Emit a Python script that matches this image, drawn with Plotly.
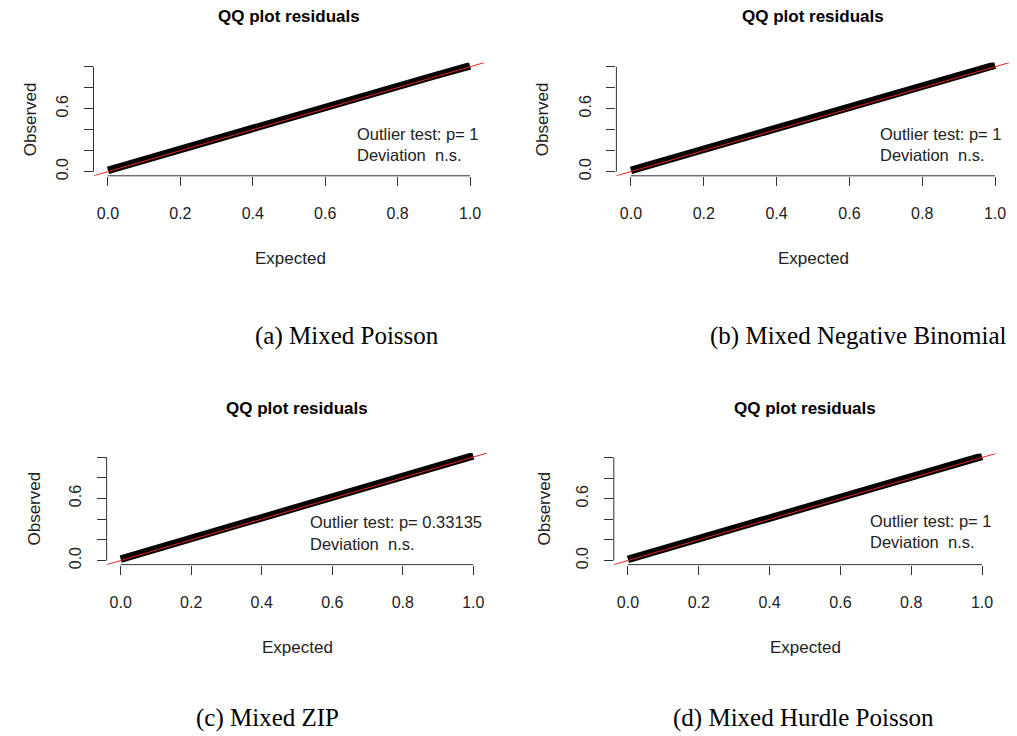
import plotly.graph_objects as go

# ---------------- data ----------------
expected = [0.0, 0.1, 0.2, 0.3, 0.4, 0.5, 0.6, 0.7, 0.8, 0.9, 1.0]
obs_poisson = [0.012, 0.113, 0.213, 0.312, 0.418, 0.524, 0.624, 0.722, 0.818, 0.912, 1.008]
obs_negbin = [0.012, 0.112, 0.212, 0.311, 0.417, 0.523, 0.623, 0.721, 0.817, 0.911, 1.015]
obs_zip = [0.013, 0.114, 0.214, 0.314, 0.420, 0.526, 0.625, 0.723, 0.819, 0.913, 1.012]
obs_hurdle = [0.012, 0.113, 0.213, 0.312, 0.418, 0.524, 0.624, 0.722, 0.818, 0.912, 1.012]

x_tick_vals = [0.0, 0.2, 0.4, 0.6, 0.8, 1.0]
x_tick_text = ["0.0", "0.2", "0.4", "0.6", "0.8", "1.0"]
y_tick_text = ["0.0", "", "", "0.6", "", ""]

panel_titles = ["QQ plot residuals"] * 4
captions = ["(a) Mixed Poisson", "(b) Mixed Negative Binomial", "(c) Mixed ZIP", "(d) Mixed Hurdle Poisson"]
test_lines = [
    ["Outlier test: p= 1", "Deviation  n.s."],
    ["Outlier test: p= 1", "Deviation  n.s."],
    ["Outlier test: p= 0.33135", "Deviation  n.s."],
    ["Outlier test: p= 1", "Deviation  n.s."],
]
series = [obs_poisson, obs_negbin, obs_zip, obs_hurdle]

# ---------------- layout geometry (pixels) ----------------
W, H = 1017, 736
# plot region boxes: left, right, top, bottom (px)
boxes = [
    (93.5, 484.5, 63, 177),
    (616.4, 1009.6, 63, 177),
    (106.6, 487.4, 456, 568.5),
    (613.8, 996.2, 456.5, 568.5),
]
title_pos = [(289, 17), (813, 17), (297, 411), (805, 411)]
xlab_pos = [(290, 260), (813, 260), (297, 652), (805, 652)]
ylab_pos = [(30, 120), (542, 120), (35, 512), (545, 512)]
caption_pos = [(347, 338), (858, 338), (267, 723), (803, 723)]
text_anchor = [(0.682, 0.362, 0.162), (0.679, 0.362, 0.162),
               (0.531, 0.375, 0.163), (0.678, 0.388, 0.175)]

RANGE = [-0.04, 1.04]
AX_COL = "#333333"
TXT_COL = "#222222"
SANS = "Liberation Sans, Arial, sans-serif"
SERIF = "Liberation Serif, Times New Roman, serif"


def px(x):
    return x / W


def py(y):
    return 1 - y / H


fig = go.Figure()
layout = dict(
    width=W, height=H, autosize=False,
    margin=dict(l=0, r=0, t=0, b=0),
    paper_bgcolor="white", plot_bgcolor="white",
    showlegend=False,
)
annotations = []
shapes = []

for i in range(4):
    n = "" if i == 0 else str(i + 1)
    xa, ya = "x" + n, "y" + n
    l, r, t, b = boxes[i]
    layout["xaxis" + n] = dict(
        domain=[px(l), px(r)], anchor=ya, range=RANGE,
        tickvals=x_tick_vals, ticktext=x_tick_text,
        ticks="outside", ticklen=9, tickwidth=1, tickcolor=AX_COL,
        showline=False, showgrid=False, zeroline=False,
        tickfont=dict(family=SANS, size=16, color=TXT_COL),
        ticklabelstandoff=14,
    )
    layout["yaxis" + n] = dict(
        domain=[py(b), py(t)], anchor=xa, range=RANGE,
        tickvals=x_tick_vals, ticktext=y_tick_text, tickangle=-90,
        ticks="outside", ticklen=9, tickwidth=1, tickcolor=AX_COL,
        showline=False, showgrid=False, zeroline=False,
        tickfont=dict(family=SANS, size=16, color=TXT_COL),
        ticklabelstandoff=9,
    )
    # points (thick band)
    fig.add_trace(go.Scatter(
        x=expected, y=series[i], mode="lines",
        line=dict(color="black", width=7.5),
        xaxis=xa, yaxis=ya, hoverinfo="skip",
    ))
    # reference line y = x across full plot region
    fig.add_trace(go.Scatter(
        x=RANGE, y=RANGE, mode="lines",
        line=dict(color="#e8231f", width=1),
        xaxis=xa, yaxis=ya, hoverinfo="skip",
    ))
    # R-style axis lines (from first to last tick)
    shapes.append(dict(type="line", xref=xa, yref=ya + " domain",
                       x0=x_tick_vals[0], x1=x_tick_vals[-1], y0=0, y1=0,
                       line=dict(color=AX_COL, width=1)))
    shapes.append(dict(type="line", xref=xa + " domain", yref=ya,
                       x0=0, x1=0, y0=x_tick_vals[0], y1=x_tick_vals[-1],
                       line=dict(color=AX_COL, width=1)))
    # title
    tx, ty = title_pos[i]
    annotations.append(dict(text="<b>" + panel_titles[i] + "</b>", x=px(tx), y=py(ty),
                            xref="paper", yref="paper", showarrow=False,
                            xanchor="center", yanchor="middle",
                            font=dict(family=SANS, size=17, color="black")))
    # axis titles
    lx, ly = xlab_pos[i]
    annotations.append(dict(text="Expected", x=px(lx), y=py(ly),
                            xref="paper", yref="paper", showarrow=False,
                            xanchor="center", yanchor="middle",
                            font=dict(family=SANS, size=17, color=TXT_COL)))
    lx, ly = ylab_pos[i]
    annotations.append(dict(text="Observed", x=px(lx), y=py(ly), textangle=-90,
                            xref="paper", yref="paper", showarrow=False,
                            xanchor="center", yanchor="middle",
                            font=dict(family=SANS, size=17, color=TXT_COL)))
    # test text
    ax_, y1, y2 = text_anchor[i]
    for txt, yy in zip(test_lines[i], (y1, y2)):
        annotations.append(dict(text=txt, x=ax_, y=yy, xref=xa, yref=ya,
                                showarrow=False, xanchor="left", yanchor="middle",
                                font=dict(family=SANS, size=16.5, color=TXT_COL)))
    # caption
    cx, cy = caption_pos[i]
    annotations.append(dict(text=captions[i], x=px(cx), y=py(cy),
                            xref="paper", yref="paper", showarrow=False,
                            xanchor="center", yanchor="middle",
                            font=dict(family=SERIF, size=25, color="black")))

layout["annotations"] = annotations
layout["shapes"] = shapes
fig.update_layout(**layout)
fig.write_html(
    "out.html",
    config={"displayModeBar": False, "staticPlot": True},
    post_script="document.body.style.margin='0';document.body.style.overflow='hidden';",
)
